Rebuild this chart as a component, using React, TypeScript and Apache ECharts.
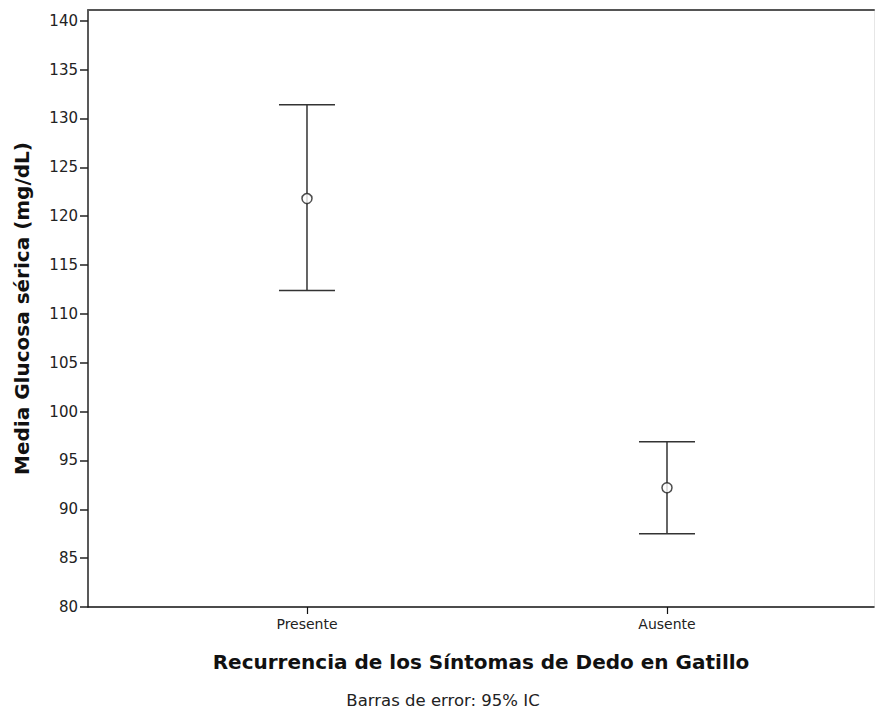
import React, { useEffect, useRef } from "react";
import * as echarts from "echarts";

const categories = ["Presente", "Ausente"];
const categoryX = [1, 2];
const means = [121.8, 92.2];
const lowerCI = [112.4, 87.5];
const upperCI = [131.4, 96.9];
const yTicks = [80, 85, 90, 95, 100, 105, 110, 115, 120, 125, 130, 135, 140];

const FONT = "DejaVu Sans";

export default function App() {
  const ref = useRef<HTMLDivElement>(null);
  useEffect(() => {
    document.body.style.margin = "0";
    const chart = echarts.init(ref.current!, null, { renderer: "svg" });
    const errData = categoryX.map((x, i) => [x, lowerCI[i], upperCI[i]]);
    const meanData = categoryX.map((x, i) => [x, means[i]]);
    chart.setOption({
      animation: false,
      backgroundColor: "#ffffff",
      grid: { left: 88, right: 2, top: 10, bottom: 106 },
      xAxis: [
        {
          type: "value",
          min: 0.3917,
          max: 2.575,
          position: "bottom",
          name: "Recurrencia de los Síntomas de Dedo en Gatillo",
          nameLocation: "middle",
          nameGap: 45,
          nameTextStyle: { fontFamily: FONT, fontSize: 20, fontWeight: "bold", color: "#111" },
          axisLine: { show: true, lineStyle: { color: "#111", width: 1.5 } },
          axisTick: { show: true, customValues: categoryX, length: 7, lineStyle: { color: "#111", width: 1.2 } },
          axisLabel: {
            customValues: categoryX,
            formatter: (v: number) => categories[categoryX.indexOf(Math.round(v))] ?? "",
            fontFamily: FONT,
            fontSize: 14,
            color: "#222",
            margin: 10,
          },
          splitLine: { show: false },
        },
        {
          type: "value",
          min: 0,
          max: 1,
          position: "top",
          axisLine: { show: true, onZero: false, lineStyle: { color: "#555", width: 2 } },
          axisTick: { show: false },
          axisLabel: { show: false },
          splitLine: { show: false },
        },
      ],
      yAxis: [
        {
          type: "value",
          min: 80,
          max: 141.1,
          name: "Media Glucosa sérica (mg/dL)",
          nameLocation: "middle",
          nameRotate: 90,
          nameGap: 56,
          nameTextStyle: { fontFamily: FONT, fontSize: 20, fontWeight: "bold", color: "#111" },
          axisLine: { show: true, lineStyle: { color: "#222", width: 1.5 } },
          axisTick: { show: true, customValues: yTicks, length: 8, lineStyle: { color: "#222", width: 1.5 } },
          axisLabel: { customValues: yTicks, fontFamily: FONT, fontSize: 15, color: "#222", margin: 10 },
          splitLine: { show: false },
        },
        {
          type: "value",
          min: 0,
          max: 1,
          position: "right",
          axisLine: { show: true, onZero: false, lineStyle: { color: "#e6e6e6", width: 1 } },
          axisTick: { show: false },
          axisLabel: { show: false },
          splitLine: { show: false },
        },
      ],
      graphic: [
        {
          type: "text",
          x: 443,
          y: 700,
          style: {
            text: "Barras de error: 95% IC",
            fontFamily: FONT,
            fontSize: 16.5,
            fill: "#222",
            textAlign: "center",
            textVerticalAlign: "middle",
          },
        },
      ],
      series: [
        {
          type: "custom",
          xAxisIndex: 0,
          yAxisIndex: 0,
          data: errData,
          renderItem: (params: any, api: any) => {
            const x = api.value(0);
            const lo = api.coord([x, api.value(1)]);
            const hi = api.coord([x, api.value(2)]);
            const hw = 28;
            const style = { stroke: "#333", lineWidth: 1.5 };
            return {
              type: "group",
              children: [
                { type: "line", shape: { x1: lo[0], y1: lo[1], x2: hi[0], y2: hi[1] }, style },
                { type: "line", shape: { x1: hi[0] - hw, y1: hi[1], x2: hi[0] + hw, y2: hi[1] }, style },
                { type: "line", shape: { x1: lo[0] - hw, y1: lo[1], x2: lo[0] + hw, y2: lo[1] }, style },
              ],
            };
          },
          z: 2,
        },
        {
          type: "scatter",
          xAxisIndex: 0,
          yAxisIndex: 0,
          data: meanData,
          symbol: "circle",
          symbolSize: 10,
          itemStyle: { color: "#ffffff", borderColor: "#222", borderWidth: 1.5 },
          z: 3,
        },
      ],
    });
    return () => chart.dispose();
  }, []);
  return <div ref={ref} style={{ width: 876, height: 713 }} />;
}
